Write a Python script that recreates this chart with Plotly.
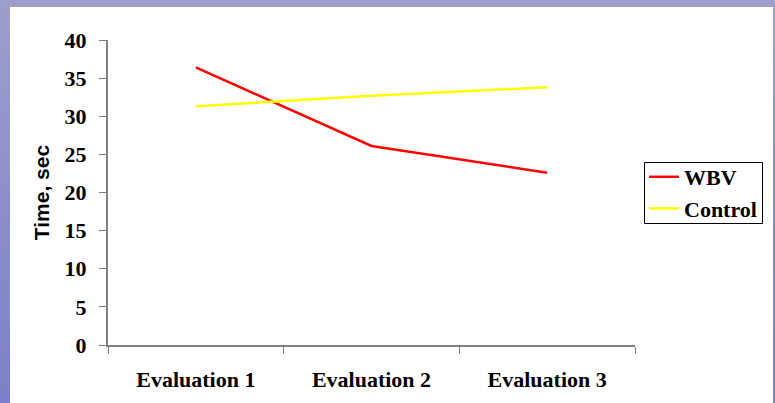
import plotly.graph_objects as go

categories = ["Evaluation 1", "Evaluation 2", "Evaluation 3"]
wbv = [36.4, 26.1, 22.6]
control = [31.3, 32.7, 33.8]
y_ticks = [0, 5, 10, 15, 20, 25, 30, 35, 40]

W, H = 775, 403
L, R, T, B = 108, 140, 40, 58
pw = W - L - R
ph = H - T - B

def px_x(p):
    return (p - L) / pw

def px_y(p):
    return (H - B - p) / ph

serif = "Liberation Serif"
sans = "Liberation Sans"

fig = go.Figure()
fig.add_trace(go.Scatter(x=[0, 1, 2], y=wbv, mode="lines", name="WBV",
                         line=dict(color="#ff0000", width=2.5)))
fig.add_trace(go.Scatter(x=[0, 1, 2], y=control, mode="lines", name="Control",
                         line=dict(color="#ffff00", width=2.5)))

fig.update_layout(
    width=W, height=H,
    margin=dict(l=L, r=R, t=T, b=B, pad=0),
    paper_bgcolor="rgba(0,0,0,0)",
    plot_bgcolor="rgba(0,0,0,0)",
    font=dict(family=serif, color="#000000"),
    showlegend=True,
    legend=dict(x=px_x(644), y=px_y(156), xanchor="left", yanchor="top",
                borderwidth=0, bgcolor="rgba(0,0,0,0)",
                font=dict(family=serif, size=22, color="#000000", weight="bold"),
                tracegroupgap=0, itemwidth=30),
    shapes=[
        dict(type="rect", xref="paper", yref="paper", layer="below",
             x0=px_x(10), x1=px_x(773), y0=px_y(403), y1=px_y(7),
             fillcolor="#ffffff", line=dict(width=0)),
        dict(type="rect", xref="paper", yref="paper", layer="below",
             x0=px_x(644.5), x1=px_x(762.5), y0=px_y(223.5), y1=px_y(162.5),
             fillcolor="#ffffff", line=dict(width=1, color="#000000")),
    ],
)
fig.update_xaxes(
    range=[-0.5, 2.5],
    tickmode="array", tickvals=[0, 1, 2], ticktext=categories,
    ticks="", showline=True, linecolor="#808080", linewidth=2,
    showgrid=False, zeroline=False,
    tickfont=dict(family=serif, size=22, color="#000000", weight="bold"),
    ticklabelstandoff=14,
    minor=dict(tickmode="array", tickvals=[-0.5, 0.5, 1.5, 2.5], ticks="outside",
               ticklen=7, tickcolor="#808080", tickwidth=1),
)
fig.update_yaxes(
    range=[0, 40], tickmode="array", tickvals=y_ticks,
    ticks="outside", ticklen=7, tickcolor="#808080", tickwidth=1,
    showline=True, linecolor="#808080", linewidth=2,
    showgrid=False, zeroline=False,
    tickfont=dict(family=serif, size=22, color="#000000", weight="bold"),
    ticklabelstandoff=8,
    title=dict(text="Time, sec", standoff=9,
               font=dict(family=sans, size=21, color="#000000", weight="bold")),
)

fig.write_html(
    "out.html",
    config={"displayModeBar": False},
    post_script=("document.body.style.margin='0';"
                 "document.documentElement.style.background="
                 "'linear-gradient(#9e9ecc, #7c80c8)';"
                 "document.body.style.background='transparent';"),
)
